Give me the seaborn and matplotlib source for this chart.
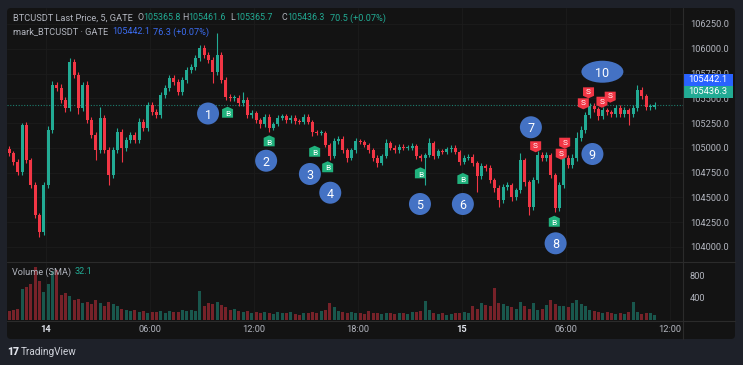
import numpy as np
import pandas as pd
import matplotlib
matplotlib.use("Agg")
import matplotlib.pyplot as plt
import seaborn as sns
from matplotlib.patches import Ellipse, Polygon, FancyBboxPatch, Rectangle
from matplotlib.transforms import Bbox, TransformedBbox

# ---------------- data (15-minute resampled read of the 5-minute chart) ----------------
first_open = 104990
closes = [
    104947, 104856, 104755, 105230, 104876, 104624, 104321, 104149, 104624, 105179,
    105634, 105604, 105482, 105402, 105866, 105735, 105402, 105634, 105280, 105129,
    104977, 105301, 104977, 104725, 104977, 105159, 104998, 105078, 105129, 105078,
    105260, 105200, 105432, 105361, 105331, 105533, 105604, 105705, 105664, 105563,
    105684, 105785, 105816, 105907, 106008, 105937, 105886, 105765, 105937, 105684,
    105513, 105503, 105503, 105452, 105482, 105331, 105351, 105280, 105240, 105311,
    105200, 105240, 105301, 105321, 105280, 105301, 105270, 105260, 105311, 105260,
    105159, 105149, 105149, 105028, 104917, 105068, 105089, 104977, 104897, 104977,
    105068, 105058, 105028, 104977, 104897, 104846, 104917, 105048, 104998, 104977,
    105008, 104998, 104998, 105018, 104917, 104897, 104927, 105048, 104917, 104967,
    104957, 104987, 104998, 104957, 104856, 104897, 104907, 104846, 104715, 104816,
    104796, 104674, 104594, 104472, 104604, 104624, 104503, 104573, 104876, 104654,
    104402, 104674, 104927, 104897, 104927, 104725, 104392, 104624, 104897, 104826,
    104897, 105099, 105179, 105331, 105422, 105391, 105321, 105381, 105361, 105341,
    105402, 105341, 105381, 105341, 105402, 105583, 105523, 105412, 105412, 105436.3,
]
wick_up = [
    30, 25, 30, 20, 30, 25, 30, 25, 30, 40,
    40, 30, 40, 30, 40, 30, 30, 30, 40, 30,
    30, 110, 30, 30, 30, 40, 30, 30, 30, 30,
    40, 30, 30, 30, 30, 30, 30, 30, 30, 30,
    30, 30, 30, 30, 30, 30, 30, 30, 220, 30,
    30, 30, 30, 30, 80, 30, 30, 25, 25, 30,
    25, 25, 30, 25, 25, 25, 25, 25, 30, 25,
    25, 25, 30, 25, 25, 30, 30, 25, 25, 25,
    30, 25, 25, 25, 25, 25, 25, 40, 25, 25,
    30, 25, 25, 30, 25, 25, 25, 50, 25, 25,
    25, 25, 25, 25, 25, 25, 30, 25, 25, 30,
    25, 25, 25, 25, 30, 30, 25, 25, 70, 25,
    25, 30, 40, 30, 30, 25, 25, 30, 40, 30,
    40, 60, 40, 30, 30, 30, 25, 30, 25, 25,
    30, 25, 30, 25, 30, 50, 30, 25, 25, 25,
]
wick_dn = [
    30, 30, 30, 30, 30, 30, 30, 50, 30, 30,
    30, 30, 30, 40, 30, 30, 60, 30, 30, 30,
    100, 30, 30, 100, 30, 30, 140, 30, 30, 30,
    30, 30, 30, 30, 30, 30, 30, 30, 30, 30,
    30, 30, 30, 30, 30, 30, 30, 110, 30, 30,
    30, 30, 30, 30, 30, 30, 30, 30, 40, 30,
    40, 25, 25, 25, 25, 25, 25, 25, 25, 25,
    40, 25, 25, 25, 40, 25, 25, 30, 40, 25,
    25, 25, 25, 25, 30, 40, 25, 25, 25, 25,
    25, 25, 25, 25, 30, 30, 270, 25, 30, 25,
    25, 25, 25, 25, 30, 25, 25, 30, 160, 30,
    30, 30, 40, 70, 30, 30, 40, 30, 30, 40,
    80, 30, 30, 30, 30, 30, 40, 30, 30, 30,
    30, 30, 30, 30, 30, 30, 40, 30, 30, 30,
    30, 30, 30, 110, 30, 30, 30, 30, 30, 25,
]
volumes = [
    150, 170, 200, 550, 600, 650, 950, 700,
    500, 650, 880, 900, 450,
    480, 420, 350, 380, 300,
    320, 280, 350, 300, 250, 320, 280,
    250, 200, 180, 150, 170, 130,
    150, 120, 140, 130, 150, 120, 160, 140, 130, 180,
    150, 170, 160, 520,
    250, 300, 280, 320, 260,
    220, 180, 200, 150, 130, 160, 120, 140, 110, 130, 120,
    100, 130, 110, 120, 140, 100, 90, 110, 120, 130,
    120, 150, 180, 300, 220, 150,
    130, 120, 140, 110, 120, 100, 150, 120, 110,
    100, 120, 110, 100, 120, 110, 100, 130, 140, 150,
    330,
    180, 120, 100, 110, 90, 100, 110, 120,
    130, 110, 250, 200, 300, 260,
    250, 580, 300, 280, 250,
    230, 200, 320, 250, 200, 300,
    180, 200, 270, 360, 280, 250, 240,
    220, 300, 350, 280, 250,
    180, 150, 130, 120, 140, 110, 100,
    120, 100, 130, 310, 140, 100, 120, 110, 90,
]
time_ticks_h = [0, 6, 12, 18, 24, 30, 36]
time_labels = ["14", "06:00", "12:00", "18:00", "15", "06:00", "12:00"]
price_ticks = [106250, 106000, 105750, 105500, 105250, 105000, 104750, 104500, 104250, 104000]
vol_ticks = [400, 800]
last_price = 105436.3
mark_price = 105442.1

# annotations: (candle index, price)
circle_labels = ["1", "2", "3", "4", "5", "6", "7", "8", "9", "10"]
circle_idx = [45.9, 59.3, 69.4, 74.1, 94.8, 104.7, 120.4, 126.1, 134.6, 136.9]
circle_price = [105346, 104869, 104735, 104546, 104432, 104432, 105207, 104035, 104937, 105768]
buy_idx = [50.4, 60.0, 70.5, 73.5, 94.9, 104.7, 125.8]
buy_price = [105354, 105065, 104960, 104803, 104742, 104685, 104253]
sell_idx = [121.5, 128.2, 127.4, 133.7, 132.5, 136.8, 138.7]
sell_price = [105015, 105051, 104940, 105560, 105449, 105465, 105516]

# ---------------- style ----------------
W, H = 743, 365
FRAME = "#1e2129"
PANEL = "#131313"
GRID = "#1c1c1c"
SEP = "#2b2b2b"
TXT = "#b2b5be"
UP = "#22ab94"
DN = "#f23645"
BLUE = "#2962ff"

sns.set_theme(style="dark")
plt.rcParams['font.family'] = ['Roboto', 'DejaVu Sans']

n = len(closes)
closes_a = np.array(closes, dtype=float)
opens_a = np.concatenate([[first_open], closes_a[:-1]])
highs_a = np.maximum(opens_a, closes_a) + np.array(wick_up)
lows_a = np.minimum(opens_a, closes_a) - np.array(wick_dn)
idx = np.arange(n)
up_mask = closes_a >= opens_a

# candle geometry: 4.333 px per 15-min candle, price 10.1 units per px
PXX = 1 / 4.3333
PXY = 10.1
x_left, x_right = -0.5, -0.5 + (683 - 7) * PXX
y_top = 106492.4 - 10.1 * 8
y_bot = 106492.4 - 10.1 * 262
tick_idx = [(t + 2.25) * 4 - 0.5 for t in time_ticks_h]


def fr(x0, y0, x1, y1):
    return [x0 / W, 1 - y1 / H, (x1 - x0) / W, (y1 - y0) / H]


fig = plt.figure(figsize=(W / 100, H / 100), dpi=100, facecolor=FRAME)

bg = fig.add_axes([0, 0, 1, 1], zorder=0)
bg.set_xlim(0, W); bg.set_ylim(H, 0); bg.axis('off')
bg.add_patch(FancyBboxPatch((7, 8), 728, 331, boxstyle="round,pad=0,rounding_size=4",
                            fc=PANEL, ec='none'))

# ---------------- price pane ----------------
ax = fig.add_axes(fr(7, 8, 683, 262), zorder=2)
ax.set_facecolor('none')
ax.set_axisbelow(True)
cols = np.where(up_mask, UP, DN)
ax.vlines(idx, lows_a, highs_a, colors=cols, lw=0.8, zorder=2)
body_h = np.maximum(np.abs(closes_a - opens_a), 8)
ax.bar(idx, body_h, bottom=np.minimum(opens_a, closes_a), width=0.7, color=cols,
       edgecolor='none', zorder=3)
ax.axhline(last_price, color=UP, lw=0.8, ls=(0, (1, 1.5)), alpha=0.7, zorder=1)
ax.set_xlim(x_left, x_right)
ax.set_ylim(y_bot, y_top)
ax.set_xticks(tick_idx)
ax.tick_params(axis='x', length=0, labelbottom=False)
ax.yaxis.tick_right()
ax.set_yticks(price_ticks)
ax.set_yticklabels([f"{p:.1f}" for p in price_ticks])
ax.tick_params(axis='y', length=0, pad=5, labelsize=6.7, labelcolor=TXT)
ax.grid(True, color=GRID, lw=0.6)
for s in ax.spines.values():
    s.set_visible(False)

# annotations
for lab, xi, pi in zip(circle_labels, circle_idx, circle_price):
    wpx = 42 if len(lab) > 1 else 22
    ax.add_patch(Ellipse((xi, pi), wpx * PXX, 22 * PXY, fc="#4472c4", ec='none',
                         zorder=6, clip_on=False))
    ax.text(xi, pi, lab, color='white', fontsize=9, ha='center', va='center_baseline',
            zorder=7, clip_on=False)


def tag(xi, pi, letter, color, pointer_up):
    if pointer_up:
        pts = [(-5.5, 5), (5.5, 5), (5.5, -3.5), (0, -6), (-5.5, -3.5)]
        cy = 0.7
    else:
        pts = [(-5.5, -5), (5.5, -5), (5.5, 3.5), (0, 6), (-5.5, 3.5)]
        cy = -0.7
    poly = [(xi + dx * PXX, pi - dy * PXY) for dx, dy in pts]
    ax.add_patch(Polygon(poly, closed=True, fc=color, ec='none', zorder=6, clip_on=False))
    ax.text(xi, pi - cy * PXY, letter, color='white', fontsize=6, ha='center',
            va='center_baseline', zorder=7, clip_on=False)


for xi, pi in zip(buy_idx, buy_price):
    tag(xi, pi, "B", "#20b27d", True)
for xi, pi in zip(sell_idx, sell_price):
    tag(xi, pi, "S", DN, False)

# ---------------- volume pane ----------------
axv = fig.add_axes(fr(7, 262, 683, 319.5), zorder=2)
axv.set_facecolor('none')
vdf = pd.DataFrame({"idx": idx, "vol": volumes, "dir": np.where(up_mask, "up", "down")})
sns.barplot(data=vdf, x="idx", y="vol", hue="dir", palette={"up": UP, "down": DN},
            native_scale=True, dodge=False, width=0.7, alpha=0.45, saturation=1,
            errorbar=None, legend=False, edgecolor='none', linewidth=0, ax=axv)
axv.set_xlim(x_left, x_right)
axv.set_ylim(0, (319.5 - 262) / 0.055)
axv.set_xlabel(""); axv.set_ylabel("")
axv.set_xticks(tick_idx)
axv.set_xticklabels(time_labels)
axv.tick_params(axis='x', length=0, pad=4, labelsize=6.7, labelcolor=TXT)
for lbl, txt in zip(axv.get_xticklabels(), time_labels):
    if txt in ("14", "15"):
        lbl.set_color("#e0e3eb")
        lbl.set_fontweight("bold")
    lbl.set_clip_box(TransformedBbox(Bbox([[0, 0], [683 / W, 1]]), fig.transFigure))
    lbl.set_clip_on(True)
axv.yaxis.tick_right()
axv.set_yticks(vol_ticks)
axv.set_yticklabels([str(v) for v in vol_ticks])
axv.tick_params(axis='y', length=0, pad=4.5, labelsize=6.7, labelcolor=TXT)
axv.grid(True, axis='x', color=GRID, lw=0.6)
axv.grid(False, axis='y')
axv.set_axisbelow(True)
for s in axv.spines.values():
    s.set_visible(False)

# ---------------- overlay: separators, header, badges, logo ----------------
top = fig.add_axes([0, 0, 1, 1], zorder=5)
top.set_xlim(0, W); top.set_ylim(H, 0); top.axis('off')
top.patch.set_alpha(0)
top.plot([7, 735], [262, 262], color=SEP, lw=0.8)
top.plot([7, 735], [320.5, 320.5], color=SEP, lw=0.8)
top.plot([683, 683], [8, 339], color=SEP, lw=0.8)

HF = 6.4


def chain(x, y, parts, size=HF):
    prev = None
    for txt, col in parts:
        if prev is None:
            prev = top.text(x, y, txt, color=col, fontsize=size, ha='left', va='center')
        else:
            prev = top.annotate(txt, xy=(1, 0.5), xycoords=prev, color=col, fontsize=size,
                                ha='left', va='center')


chain(13, 18, [("BTCUSDT Last Price, 5, GATE", TXT)], size=6.7)
chain(137, 18, [("O", TXT), ("105365.8", UP)])
chain(182, 18, [("H", TXT), ("105461.6", UP)])
chain(230, 18, [("L", TXT), ("105365.7", UP)])
chain(281, 18, [("C", TXT), ("105436.3", UP)])
chain(330, 18, [("70.5 (+0.07%)", UP)], size=6.6)
chain(13, 32, [("mark_BTCUSDT · GATE", TXT)], size=6.7)
chain(112, 32, [(f"{mark_price:.1f}", "#3b6cf0")], size=6.6)
chain(153, 32, [("76.3 (+0.07%)", "#3b6cf0")], size=6.6)
chain(12, 272, [("Volume (SMA)", TXT)], size=6.6)
chain(75, 272, [("32.1", UP)], size=6.6)

top.add_patch(Rectangle((683, 74), 50, 12, fc=BLUE, ec='none'))
top.text(708, 80, f"{mark_price:.1f}", color='white', fontsize=6.7, ha='center', va='center')
top.add_patch(Rectangle((683, 86), 50, 12, fc=UP, ec='none'))
top.text(708, 92, f"{last_price:.1f}", color='white', fontsize=6.7, ha='center', va='center')

top.text(7, 352, "17", color="#e0e3eb", fontsize=7.5, fontweight='heavy', ha='left', va='center')
top.text(21, 352, "TradingView", color="#d1d4dc", fontsize=7.2, ha='left', va='center')

fig.savefig("out.png", dpi=100, facecolor=FRAME)
